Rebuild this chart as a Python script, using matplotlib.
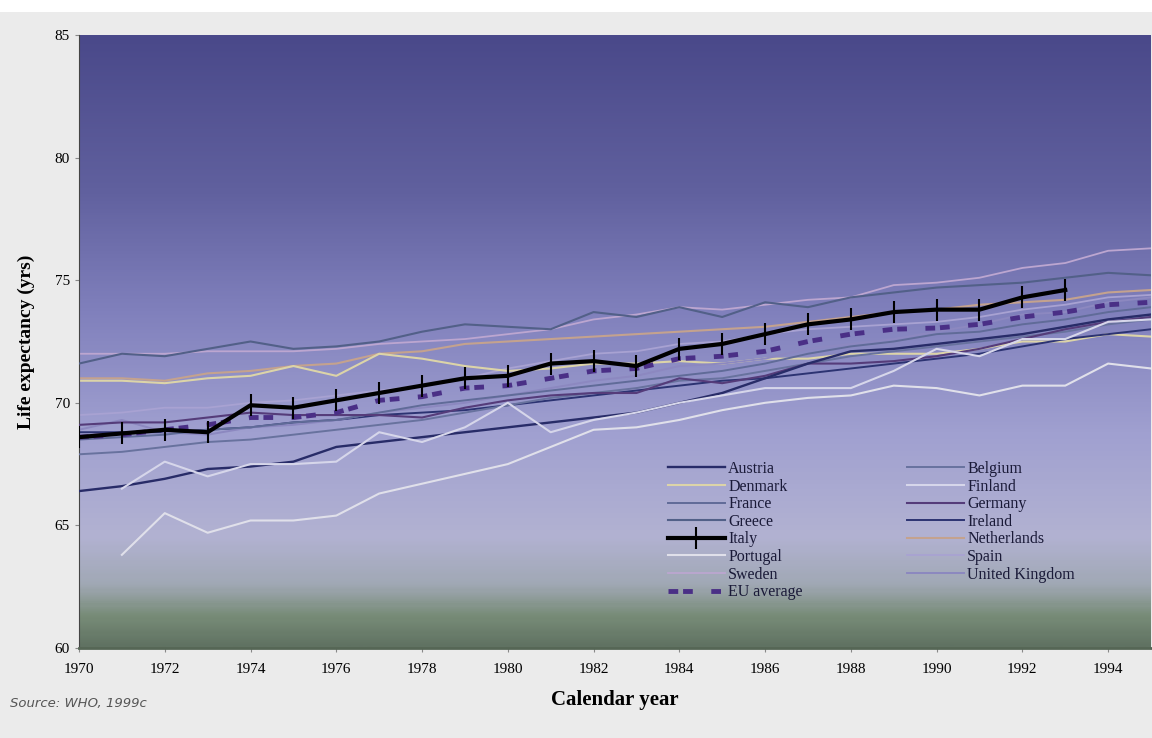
import numpy as np
import matplotlib
matplotlib.use("Agg")
import matplotlib.pyplot as plt
from matplotlib.colors import LinearSegmentedColormap
from matplotlib.patches import Rectangle

plt.rcParams['font.family'] = ['Liberation Serif', 'DejaVu Serif']

# datos (esperanza de vida, años)
years = list(range(1970, 1996))
nan = np.nan

austria = [66.4, 66.6, 66.9, 67.3, 67.4, 67.6, 68.2, 68.4, 68.6, 68.8, 69.0, 69.2, 69.4, 69.6,
           70.0, 70.4, 71.0, 71.6, 72.1, 72.2, 72.4, 72.6, 72.8, 73.1, 73.4, 73.6]
belgium = [67.9, 68.0, 68.2, 68.4, 68.5, 68.7, 68.9, 69.1, 69.3, 69.6, 69.9, 70.2, 70.4, 70.6,
           70.9, 71.0, 71.3, 71.6, 71.9, 72.1, 72.3, 72.5, 72.7, 72.9, 73.2, 73.4]
denmark = [70.9, 70.9, 70.8, 71.0, 71.1, 71.5, 71.1, 72.0, 71.8, 71.5, 71.3, 71.4, 71.6, 71.6,
           71.7, 71.6, 71.8, 71.8, 72.0, 72.0, 72.0, 72.2, 72.5, 72.5, 72.8, 72.7]
finland = [nan, 66.5, 67.6, 67.0, 67.5, 67.5, 67.6, 68.8, 68.4, 69.0, 70.0, 68.8, 69.3, 69.6,
           70.0, 70.3, 70.6, 70.6, 70.6, 71.3, 72.2, 71.9, 72.6, 72.6, 73.3, 73.4]
france = [68.5, 68.6, 68.7, 68.9, 69.0, 69.2, 69.3, 69.6, 69.9, 70.1, 70.3, 70.5, 70.7, 70.9,
          71.1, 71.3, 71.6, 72.0, 72.3, 72.5, 72.8, 72.9, 73.2, 73.4, 73.7, 73.9]
germany = [69.1, 69.2, 69.2, 69.4, 69.6, 69.5, 69.5, 69.5, 69.4, 69.8, 70.1, 70.3, 70.4, 70.4,
           71.0, 70.8, 71.1, 71.6, 71.6, 71.7, 71.9, 72.2, 72.6, 73.0, 73.3, 73.5]
greece = [71.6, 72.0, 71.9, 72.2, 72.5, 72.2, 72.3, 72.5, 72.9, 73.2, 73.1, 73.0, 73.7, 73.5,
          73.9, 73.5, 74.1, 73.9, 74.3, 74.5, 74.7, 74.8, 74.9, 75.1, 75.3, 75.2]
ireland = [68.8, 68.8, 68.8, 68.9, 69.0, 69.2, 69.3, 69.5, 69.6, 69.7, 69.9, 70.1, 70.3, 70.5,
           70.7, 70.9, 71.0, 71.2, 71.4, 71.6, 71.8, 72.0, 72.3, 72.6, 72.8, 73.0]
italy = [68.6, 68.75, 68.9, 68.8, 69.9, 69.8, 70.1, 70.4, 70.7, 71.0, 71.1, 71.6, 71.7, 71.5,
         72.2, 72.4, 72.8, 73.2, 73.4, 73.7, 73.8, 73.8, 74.3, 74.6, nan, nan]
netherlands = [71.0, 71.0, 70.9, 71.2, 71.3, 71.5, 71.6, 72.0, 72.1, 72.4, 72.5, 72.6, 72.7, 72.8,
               72.9, 73.0, 73.1, 73.3, 73.5, 73.7, 73.8, 74.0, 74.1, 74.2, 74.5, 74.6]
portugal = [nan, 63.8, 65.5, 64.7, 65.2, 65.2, 65.4, 66.3, 66.7, 67.1, 67.5, 68.2, 68.9, 69.0,
            69.3, 69.7, 70.0, 70.2, 70.3, 70.7, 70.6, 70.3, 70.7, 70.7, 71.6, 71.4]
spain = [69.5, 69.6, 69.8, 69.8, 70.0, 70.1, 70.3, 70.5, 70.7, 71.0, 71.4, 71.7, 72.0, 72.1,
         72.4, 72.5, 72.8, 73.0, 73.1, 73.2, 73.3, 73.5, 73.8, 74.0, 74.3, 74.4]
sweden = [72.0, 72.0, 72.0, 72.1, 72.1, 72.1, 72.2, 72.4, 72.5, 72.6, 72.8, 73.0, 73.4, 73.6,
          73.9, 73.8, 74.0, 74.2, 74.3, 74.8, 74.9, 75.1, 75.5, 75.7, 76.2, 76.3]
uk = [68.9, 69.3, 68.8, 68.7, 69.0, 69.1, 69.3, 69.6, 69.8, 70.0, 70.3, 70.6, 70.9, 71.1,
      71.5, 71.6, 71.8, 72.2, 72.4, 72.6, 72.9, 73.2, 73.6, 73.7, 74.1, 74.3]
eu_average = [68.6, 68.7, 68.9, 69.1, 69.4, 69.4, 69.6, 70.1, 70.25, 70.6, 70.7, 71.0, 71.3, 71.4,
              71.8, 71.9, 72.1, 72.5, 72.8, 73.0, 73.05, 73.2, 73.5, 73.7, 74.0, 74.1]

# 1.Figura
fig = plt.figure(figsize=(11.52, 7.38), dpi=100, facecolor='#ebebeb')
fig.patches.append(Rectangle((0, 1 - 12 / 738), 1, 12 / 738, transform=fig.transFigure,
                             facecolor='white', edgecolor='none'))
ax = fig.add_axes([79 / 1152, 1 - 648 / 738, 1072 / 1152, 613 / 738])

# 2.Fondo degradado
stops = [(0.0, (74, 73, 138)), (0.25, (96, 96, 158)), (0.45, (128, 128, 188)),
         (0.65, (160, 160, 208)), (0.82, (178, 178, 210)), (0.9, (160, 168, 180)),
         (0.95, (120, 140, 120)), (1.0, (96, 114, 98))]
cmap = LinearSegmentedColormap.from_list('fondo', [(p, tuple(c / 255 for c in rgb)) for p, rgb in stops])
grad = np.linspace(0, 1, 300).reshape(-1, 1)
ax.imshow(grad, cmap=cmap, aspect='auto', extent=[1970, 1995, 60, 85], zorder=0)

# 3.Lineas
ax.plot(years, sweden, color='#bca6d0', lw=1.3, label='Sweden', zorder=2)
ax.plot(years, spain, color='#a8a2d2', lw=1.3, label='Spain', zorder=2)
ax.plot(years, netherlands, color='#c4a28e', lw=1.5, label='Netherlands', zorder=2)
ax.plot(years, denmark, color='#dcd4a8', lw=1.5, label='Denmark', zorder=2)
ax.plot(years, greece, color='#526088', lw=1.5, label='Greece', zorder=3)
ax.plot(years, ireland, color='#2c3372', lw=1.4, label='Ireland', zorder=3)
ax.plot(years, uk, color='#8c88c0', lw=1.4, label='United Kingdom', zorder=3)
ax.plot(years, france, color='#606b98', lw=1.4, label='France', zorder=3)
ax.plot(years, belgium, color='#68729e', lw=1.4, label='Belgium', zorder=3)
ax.plot(years, germany, color='#553c7a', lw=1.5, label='Germany', zorder=3)
ax.plot(years, austria, color='#282c68', lw=1.7, label='Austria', zorder=3)
ax.plot(years, finland, color='#d6d6ea', lw=1.5, label='Finland', zorder=3)
ax.plot(years, portugal, color='#e0e0ea', lw=1.5, label='Portugal', zorder=3)
ax.plot(years, eu_average, color='#4a2f86', lw=3.5, dashes=(2, 1, 2, 3.8),
        label='EU average', zorder=4)
ax.plot(years, italy, color='black', lw=3, marker='|', markersize=16,
        markeredgewidth=1.5, label='Italy', zorder=5)

# 4.Ejes
ax.set_xlim(1970, 1995)
ax.set_ylim(60, 85)
ax.set_xticks(range(1970, 1995, 2))
ax.set_yticks(range(60, 86, 5))
ax.tick_params(axis='both', labelsize=11, length=3, color='#888888')
ax.tick_params(axis='x', pad=8)
for s in ['top', 'right']:
    ax.spines[s].set_visible(False)
ax.spines['left'].set_color('#444444')
ax.spines['bottom'].set_color('#556655')
ax.spines['bottom'].set_linewidth(2)

ax.set_ylabel('Life expectancy (yrs)', fontsize=14, fontweight='bold', labelpad=14)
ax.set_xlabel('Calendar year', fontsize=15, fontweight='bold', labelpad=10)
fig.text(10 / 1152, 1 - 703 / 738, 'Source: WHO, 1999c', fontsize=9.5, style='italic',
         family='DejaVu Sans', color='#555555', va='center')

# 5.Leyenda
orden = ['Austria', 'Denmark', 'France', 'Greece', 'Italy', 'Portugal', 'Sweden', 'EU average',
         'Belgium', 'Finland', 'Germany', 'Ireland', 'Netherlands', 'Spain', 'United Kingdom']
h, l = ax.get_legend_handles_labels()
d = dict(zip(l, h))
leg = ax.legend([d[n] for n in orden], orden, ncol=2, loc='upper left',
                bbox_to_anchor=(0.549, 0.305), frameon=False, fontsize=11.5,
                handlelength=3.6, handletextpad=0.2, columnspacing=6.5,
                labelspacing=0.1, borderpad=0, borderaxespad=0)
for t in leg.get_texts():
    t.set_color('#1a1a38')

fig.savefig('out.png', dpi=100, facecolor=fig.get_facecolor())
